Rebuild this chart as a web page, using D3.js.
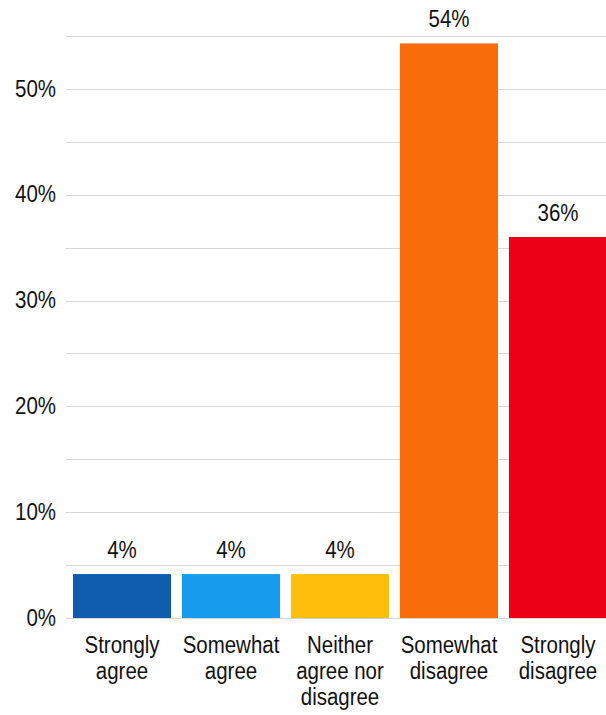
<!DOCTYPE html>
<html>
<head>
<meta charset="utf-8">
<script src="https://cdn.jsdelivr.net/npm/d3@7"></script>
<style>
  body { margin: 0; background: #fff; }
  text { font-family: "Liberation Sans", Arial, sans-serif; fill: #111; }
</style>
</head>
<body>
<svg width="606" height="715"></svg>
<script>
// data
const categories = ["Strongly agree", "Somewhat agree", "Neither agree nor disagree", "Somewhat disagree", "Strongly disagree"];
const categoryLines = [["Strongly", "agree"], ["Somewhat", "agree"], ["Neither", "agree nor", "disagree"], ["Somewhat", "disagree"], ["Strongly", "disagree"]];
const values = [4.15, 4.15, 4.15, 54.3, 36.0];
const valueLabels = ["4%", "4%", "4%", "54%", "36%"];
const barColors = ["#0f5bae", "#179ced", "#fdbe0b", "#f96c0b", "#ec0016"];
const gridTicks = [0, 5, 10, 15, 20, 25, 30, 35, 40, 45, 50, 55];
const labelTicks = [0, 10, 20, 30, 40, 50];

const plotLeft = 66, plotRight = 606;
const fontSize = 23, squeeze = 0.89;

const svg = d3.select("svg");

const y = d3.scaleLinear()
    .domain([0, 55])
    .range([618, 36]);

const x = d3.scaleBand()
    .domain(categories)
    .range([plotLeft, 614])
    .paddingInner(0.1)
    .paddingOuter(0.064);

// gridlines
svg.append("g").selectAll("line")
    .data(gridTicks)
    .enter().append("line")
    .attr("x1", plotLeft)
    .attr("x2", plotRight)
    .attr("y1", d => Math.round(y(d)) + 0.5)
    .attr("y2", d => Math.round(y(d)) + 0.5)
    .attr("stroke", "#d6d6d6")
    .attr("stroke-width", 1.2);

// helper: slightly narrow text like the original
function addText(g, tx, ty, str, anchor) {
    g.append("text")
        .attr("transform", `translate(${tx}, ${ty}) scale(${squeeze}, 1)`)
        .attr("text-anchor", anchor)
        .attr("font-size", fontSize + "px")
        .text(str);
}

// y labels
const yg = svg.append("g");
labelTicks.forEach(t => addText(yg, 56, y(t) + 7.6, t + "%", "end"));

// bars
svg.append("g").selectAll("rect")
    .data(categories)
    .enter().append("rect")
    .attr("x", d => x(d))
    .attr("width", x.bandwidth())
    .attr("y", (d, i) => y(values[i]))
    .attr("height", (d, i) => y(0) - y(values[i]))
    .attr("fill", (d, i) => barColors[i]);

// value labels
const vg = svg.append("g");
categories.forEach((c, i) => {
    addText(vg, x(c) + x.bandwidth() / 2, y(values[i]) - 16, valueLabels[i], "middle");
});

// category labels
const cg = svg.append("g");
categories.forEach((c, i) => {
    categoryLines[i].forEach((line, j) => {
        addText(cg, x(c) + x.bandwidth() / 2, 653 + j * 26, line, "middle");
    });
});
</script>
</body>
</html>
